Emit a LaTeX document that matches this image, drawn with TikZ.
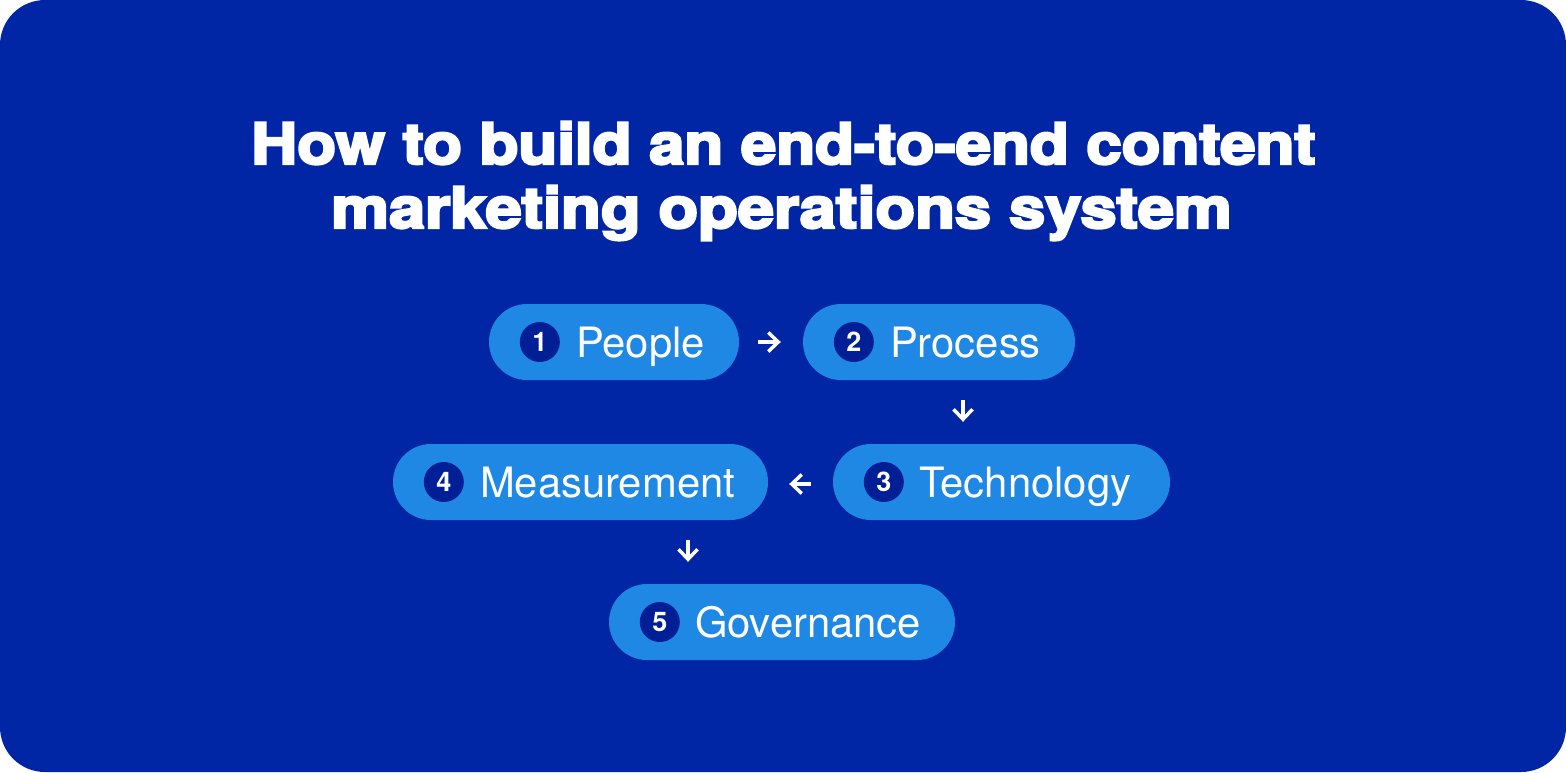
\documentclass[tikz,border=0pt]{standalone}
\usepackage{graphicx}
\usepackage{fontspec}
\setmainfont{TeX Gyre Heros}
\newfontfamily\titlefont{TeX Gyre Heros}[BoldFeatures={FakeBold=4}]
\usetikzlibrary{arrows.meta}
\definecolor{bgblue}{RGB}{0,38,165}
\definecolor{pillblue}{RGB}{30,136,228}
\definecolor{circblue}{RGB}{0,30,150}
\begin{document}
\begin{tikzpicture}[x=1pt,y=-1pt,
  pill/.style={rectangle, rounded corners=38pt, fill=pillblue, minimum height=76pt, inner sep=0pt},
  num/.style={circle, fill=circblue, minimum size=40pt, inner sep=0pt, text=white, font=\bfseries\fontsize{27}{27}\selectfont},
  lbl/.style={anchor=base west, inner sep=0pt, text=white, font=\fontsize{41.8}{42}\selectfont},
  arr/.style={white, line width=3.5pt, -{Straight Barb[length=10pt,width=19pt]}},
  ttl/.style={anchor=base, inner sep=0pt, text=white, font=\titlefont\bfseries\fontsize{57}{57}\selectfont}]
\useasboundingbox (0,0) rectangle (1566,772);
\fill[white] (0,0) rectangle (1566,772);
\fill[bgblue, rounded corners=45pt] (0,0) rectangle (1566,772);

\node[ttl] (t1) at (783.5,164) {\scalebox{1.115}[1]{How to build an end-to-end content}};
\node[ttl] (t2) at (781.5,228) {\scalebox{1.14}[1]{marketing operations system}};

\node[pill, minimum width=250pt] (p1) at (614,342) {};
\node[num] (n1) at ([xshift=51pt]p1.west) {1};
\node[lbl] (l1) at ([xshift=87pt,yshift=-15pt]p1.west) {People};

\node[pill, minimum width=272pt] (p2) at (939,342) {};
\node[num] (n2) at ([xshift=51pt]p2.west) {2};
\node[lbl] (l2) at ([xshift=87pt,yshift=-15pt]p2.west) {Process};

\node[pill, minimum width=337pt] (p3) at (1001.5,482) {};
\node[num] (n3) at ([xshift=51pt]p3.west) {3};
\node[lbl] (l3) at ([xshift=86pt,yshift=-15pt]p3.west) {Technology};

\node[pill, minimum width=375pt] (p4) at (580.5,482) {};
\node[num] (n4) at ([xshift=51pt]p4.west) {4};
\node[lbl] (l4) at ([xshift=87pt,yshift=-15pt]p4.west) {Measurement};

\node[pill, minimum width=346pt] (p5) at (782,622) {};
\node[num] (n5) at ([xshift=51pt]p5.west) {5};
\node[lbl] (l5) at ([xshift=86pt,yshift=-15pt]p5.west) {Governance};

\draw[arr, shorten <=19pt, shorten >=22pt] (p1.east) -- (p2.west);
\draw[arr, shorten <=20pt, shorten >=22pt] ([xshift=24pt]p2.south) -- ([xshift=24pt]p2.south |- p3.north);
\draw[arr, shorten <=22pt, shorten >=21pt] ([yshift=-2pt]p3.west) -- ([yshift=-2pt]p4.east);
\draw[arr, shorten <=20pt, shorten >=22pt] ([xshift=107.5pt]p4.south) -- ([xshift=107.5pt]p4.south |- p5.north);
\end{tikzpicture}
\end{document}
